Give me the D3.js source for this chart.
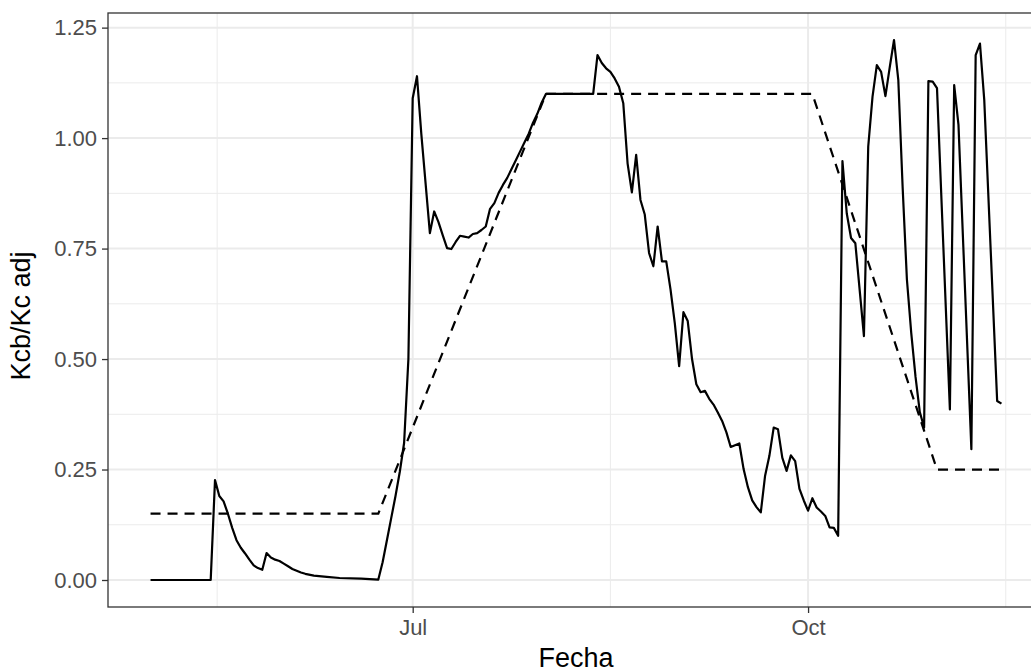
<!DOCTYPE html>
<html>
    <head>
        <meta charset="utf-8">
        <title>Kcb/Kc adj</title>
        <script type="text/javascript" src="https://cdn.jsdelivr.net/npm/d3@7"></script>
        <style>
            body { margin: 0; background: #fff; }
            text { font-family: "Liberation Sans", Arial, Helvetica, sans-serif; }
        </style>
    </head>
    <body>
        <svg id="svg"></svg>

        <script>
            var WIDTH = 1031;
            var HEIGHT = 672;
            var PANEL = {left: 108, right: 1044, top: 13, bottom: 607};

            // dashed reference curve (tabulated Kcb)
            var refDates  = ["2021-05-01", "2021-06-23", "2021-08-01", "2021-10-02", "2021-10-31", "2021-11-15"];
            var refValues = [0.15, 0.15, 1.10, 1.10, 0.25, 0.25];

            // solid curve (adjusted Kc)
            var adjDates = [
                "2021-05-01", "2021-05-15", "2021-05-16", "2021-05-17", "2021-05-18", "2021-05-19",
                "2021-05-20", "2021-05-21", "2021-05-22", "2021-05-23", "2021-05-24", "2021-05-25",
                "2021-05-26", "2021-05-27", "2021-05-28", "2021-05-29", "2021-05-30", "2021-05-31",
                "2021-06-01", "2021-06-02", "2021-06-03", "2021-06-04", "2021-06-05", "2021-06-06",
                "2021-06-08", "2021-06-11", "2021-06-14", "2021-06-19", "2021-06-23", "2021-06-24",
                "2021-06-25", "2021-06-26", "2021-06-27", "2021-06-28", "2021-06-29", "2021-06-30",
                "2021-07-01", "2021-07-02", "2021-07-03", "2021-07-05", "2021-07-06", "2021-07-07",
                "2021-07-08", "2021-07-09", "2021-07-10", "2021-07-11", "2021-07-12", "2021-07-13",
                "2021-07-14", "2021-07-15", "2021-07-16", "2021-07-17", "2021-07-18", "2021-07-19",
                "2021-07-20", "2021-07-21", "2021-07-22", "2021-07-23", "2021-07-24", "2021-07-25",
                "2021-07-26", "2021-07-27", "2021-07-28", "2021-07-29", "2021-07-30", "2021-07-31",
                "2021-08-01", "2021-08-12", "2021-08-13", "2021-08-14", "2021-08-15", "2021-08-16",
                "2021-08-17", "2021-08-18", "2021-08-19", "2021-08-20", "2021-08-21", "2021-08-22",
                "2021-08-23", "2021-08-24", "2021-08-25", "2021-08-26", "2021-08-27", "2021-08-28",
                "2021-08-29", "2021-08-30", "2021-08-31", "2021-09-01", "2021-09-02", "2021-09-03",
                "2021-09-04", "2021-09-05", "2021-09-06", "2021-09-07", "2021-09-08", "2021-09-09",
                "2021-09-10", "2021-09-11", "2021-09-12", "2021-09-13", "2021-09-14", "2021-09-15",
                "2021-09-16", "2021-09-17", "2021-09-18", "2021-09-19", "2021-09-20", "2021-09-21",
                "2021-09-22", "2021-09-23", "2021-09-24", "2021-09-25", "2021-09-26", "2021-09-27",
                "2021-09-28", "2021-09-29", "2021-09-30", "2021-10-01", "2021-10-02", "2021-10-03",
                "2021-10-04", "2021-10-05", "2021-10-06", "2021-10-07", "2021-10-08", "2021-10-09",
                "2021-10-10", "2021-10-11", "2021-10-12", "2021-10-14", "2021-10-15", "2021-10-16",
                "2021-10-17", "2021-10-18", "2021-10-19", "2021-10-20", "2021-10-21", "2021-10-22",
                "2021-10-23", "2021-10-24", "2021-10-25", "2021-10-26", "2021-10-27", "2021-10-28",
                "2021-10-29", "2021-10-30", "2021-10-31", "2021-11-03", "2021-11-04", "2021-11-05",
                "2021-11-08", "2021-11-09", "2021-11-10", "2021-11-11", "2021-11-14", "2021-11-15"
            ];
            var adjValues = [
                0, 0, 0.226, 0.19, 0.178, 0.15,
                0.118, 0.09, 0.073, 0.06, 0.046, 0.033,
                0.027, 0.023, 0.061, 0.051, 0.046, 0.043,
                0.037, 0.031, 0.025, 0.021, 0.017, 0.014,
                0.010, 0.007, 0.0045, 0.003, 0.001, 0.04,
                0.09, 0.14, 0.19, 0.245, 0.31, 0.50,
                1.09, 1.14, 1.01, 0.785, 0.834, 0.81,
                0.78, 0.751, 0.749, 0.765, 0.779, 0.777,
                0.775, 0.783, 0.785, 0.792, 0.80, 0.84,
                0.853, 0.876, 0.894, 0.91, 0.93, 0.95,
                0.97, 0.99, 1.01, 1.035, 1.055, 1.08,
                1.10, 1.10, 1.188, 1.17, 1.158, 1.15,
                1.135, 1.116, 1.079, 0.943, 0.877, 0.962,
                0.86, 0.827, 0.74, 0.71, 0.80, 0.721,
                0.721, 0.657, 0.58, 0.484, 0.606, 0.586,
                0.50, 0.443, 0.425, 0.428, 0.41, 0.397,
                0.379, 0.36, 0.334, 0.301, 0.305, 0.309,
                0.251, 0.21, 0.18, 0.165, 0.153, 0.236,
                0.281, 0.345, 0.341, 0.277, 0.247, 0.282,
                0.269, 0.206, 0.18, 0.157, 0.185, 0.164,
                0.155, 0.145, 0.119, 0.118, 0.10, 0.948,
                0.83, 0.774, 0.762, 0.552, 0.981, 1.094,
                1.165, 1.15, 1.095, 1.16, 1.222, 1.131,
                0.89, 0.68, 0.56, 0.46, 0.38, 0.345,
                1.129, 1.128, 1.113, 0.386, 1.12, 1.03,
                0.296, 1.188, 1.214, 1.086, 0.405, 0.399
            ];

            // axis breaks (Apr and Jan sit outside the panel, used for minor lines)
            var xBreakDates = ["2021-04-01", "2021-07-01", "2021-10-01", "2022-01-01"];
            var xBreakLabels = ["Apr", "Jul", "Oct", "Jan"];
            var yTicks = [0, 0.25, 0.5, 0.75, 1.0, 1.25];
            var yTickLabels = ["0.00", "0.25", "0.50", "0.75", "1.00", "1.25"];

            var parse = d3.utcParse("%Y-%m-%d");
            var adj = adjDates.map(function(d, i){ return [parse(d), adjValues[i]]; });
            var ref = refDates.map(function(d, i){ return [parse(d), refValues[i]]; });

            // ggplot-like 5% expansion on both scales
            var t0 = d3.min(adj, function(d){ return d[0]; });
            var t1 = d3.max(adj, function(d){ return d[0]; });
            var tPad = (t1 - t0) * 0.05;
            var xScale = d3.scaleUtc()
                           .domain([new Date(+t0 - tPad), new Date(+t1 + tPad)])
                           .range([PANEL.left, PANEL.right]);

            var vMax = d3.max(adj, function(d){ return d[1]; });
            var vPad = vMax * 0.05;
            var yScale = d3.scaleLinear()
                           .domain([0 - vPad, vMax + vPad])
                           .range([PANEL.bottom, PANEL.top]);

            var svg = d3.select('#svg')
                        .attr("width", WIDTH)
                        .attr("height", HEIGHT);

            var inside = function(d){
                var x = xScale(d);
                return x >= PANEL.left && x <= PANEL.right;
            };
            var xBreaks = xBreakDates.map(parse);
            var xMinor = [];
            for(var i=0; i<xBreaks.length-1; i++){
                xMinor.push(new Date((+xBreaks[i] + +xBreaks[i+1]) / 2));
            }
            var yMinor = [];
            for(var j=0; j<yTicks.length-1; j++){
                yMinor.push((yTicks[j] + yTicks[j+1]) / 2);
            }

            // grid
            var grid = svg.append("g");
            grid.selectAll(".yminor").data(yMinor).enter().append("line")
                .attr("x1", PANEL.left).attr("x2", PANEL.right)
                .attr("y1", function(d){ return yScale(d); })
                .attr("y2", function(d){ return yScale(d); })
                .attr("stroke", "#EBEBEB").attr("stroke-width", 1);
            grid.selectAll(".xminor").data(xMinor.filter(inside)).enter().append("line")
                .attr("y1", PANEL.top).attr("y2", PANEL.bottom)
                .attr("x1", function(d){ return xScale(d); })
                .attr("x2", function(d){ return xScale(d); })
                .attr("stroke", "#EBEBEB").attr("stroke-width", 1);
            grid.selectAll(".ymajor").data(yTicks).enter().append("line")
                .attr("x1", PANEL.left).attr("x2", PANEL.right)
                .attr("y1", function(d){ return yScale(d); })
                .attr("y2", function(d){ return yScale(d); })
                .attr("stroke", "#EBEBEB").attr("stroke-width", 2);
            grid.selectAll(".xmajor").data(xBreaks.filter(inside)).enter().append("line")
                .attr("y1", PANEL.top).attr("y2", PANEL.bottom)
                .attr("x1", function(d){ return xScale(d); })
                .attr("x2", function(d){ return xScale(d); })
                .attr("stroke", "#EBEBEB").attr("stroke-width", 2);

            var line = d3.line()
                         .x(function(d){ return xScale(d[0]); })
                         .y(function(d){ return yScale(d[1]); });

            svg.append("path")
               .datum(ref)
               .attr("d", line)
               .attr("fill", "none")
               .attr("stroke", "#000")
               .attr("stroke-width", 2.2)
               .attr("stroke-dasharray", "10,7");

            svg.append("path")
               .datum(adj)
               .attr("d", line)
               .attr("fill", "none")
               .attr("stroke", "#000")
               .attr("stroke-width", 2.2)
               .attr("stroke-linejoin", "round");

            // panel border
            svg.append("rect")
               .attr("x", PANEL.left).attr("y", PANEL.top)
               .attr("width", PANEL.right - PANEL.left)
               .attr("height", PANEL.bottom - PANEL.top)
               .attr("fill", "none")
               .attr("stroke", "#333333")
               .attr("stroke-width", 1.3);

            // axes
            var labelOf = {};
            xBreakDates.forEach(function(d, i){ labelOf[+parse(d)] = xBreakLabels[i]; });
            var xAxis = d3.axisBottom(xScale)
                          .tickValues(xBreaks.filter(inside))
                          .tickFormat(function(d){ return labelOf[+d]; })
                          .tickSize(6)
                          .tickPadding(6);
            var yAxis = d3.axisLeft(yScale)
                          .tickValues(yTicks)
                          .tickFormat(function(d, i){ return yTickLabels[i]; })
                          .tickSize(6)
                          .tickPadding(5);

            var gx = svg.append("g")
                        .attr("transform", "translate(0," + PANEL.bottom + ")")
                        .call(xAxis);
            var gy = svg.append("g")
                        .attr("transform", "translate(" + PANEL.left + ",0)")
                        .call(yAxis);
            [gx, gy].forEach(function(g){
                g.select(".domain").remove();
                g.selectAll(".tick line").attr("stroke", "#333333").attr("stroke-width", 1.3);
                g.selectAll(".tick text")
                 .attr("fill", "#4D4D4D")
                 .attr("font-size", "22px")
                 .attr("font-family", "'Liberation Sans', Arial, sans-serif");
            });

            svg.append("text")
               .attr("x", (PANEL.left + PANEL.right) / 2)
               .attr("y", 667)
               .attr("text-anchor", "middle")
               .attr("font-size", "27px")
               .attr("fill", "#000")
               .text("Fecha");

            svg.append("text")
               .attr("transform", "translate(30," + ((PANEL.top + PANEL.bottom) / 2 + 6) + ") rotate(-90)")
               .attr("text-anchor", "middle")
               .attr("font-size", "27px")
               .attr("fill", "#000")
               .text("Kcb/Kc adj");
        </script>
    </body>
</html>
